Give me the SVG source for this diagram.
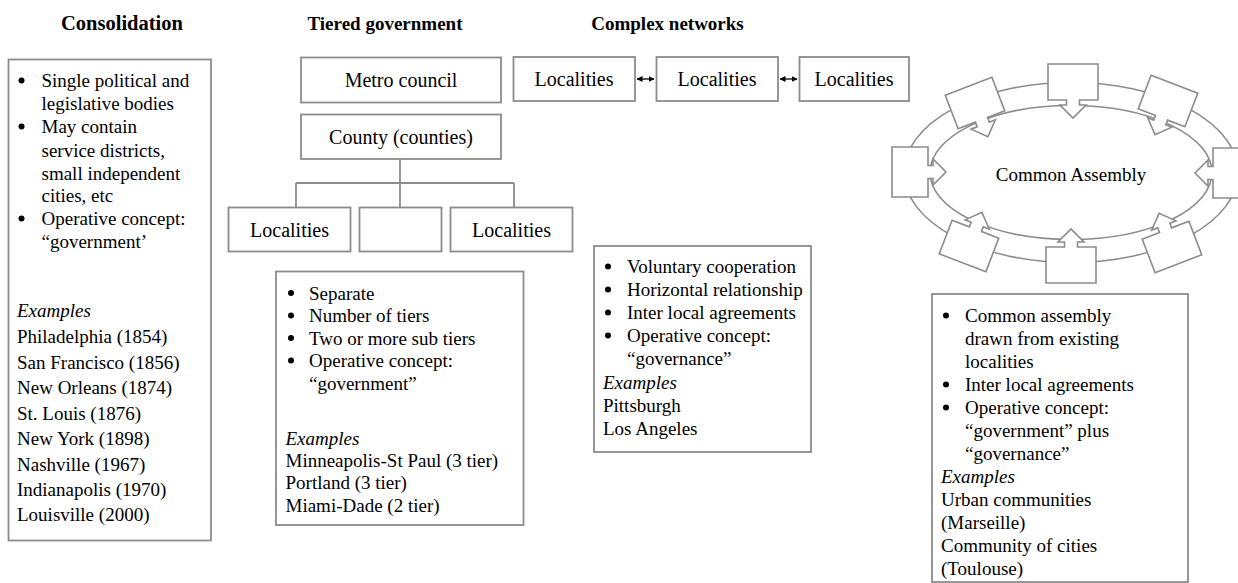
<svg xmlns="http://www.w3.org/2000/svg" width="1238" height="583" viewBox="0 0 1238 583">
<style>
text{font-family:"Liberation Serif","Times New Roman",serif;fill:#000}
.t{font-size:19px;font-weight:bold;text-anchor:middle}
.b{font-size:19px}
.lbl{font-size:20px;text-anchor:middle}
.i{font-style:italic}
.box{fill:#fff;stroke:#8c8c8c;stroke-width:1.8}
.conn{fill:none;stroke:#8c8c8c;stroke-width:1.8}
.ring{fill:#fff;stroke:#8c8c8c;stroke-width:1.6}
.co{fill:#fff;stroke:#8c8c8c;stroke-width:1.6;stroke-linejoin:miter}
.dot{fill:#000}
</style>
<defs>
<path id="callout" d="M-25,-18 H25 V18 H6.5 V23 H13 L0,36 L-13,23 H-6.5 V18 H-25 Z"/>
<marker id="ah" viewBox="0 0 6 6" refX="5.5" refY="3" markerWidth="6" markerHeight="6" markerUnits="userSpaceOnUse" orient="auto-start-reverse">
<path d="M0,0 L6,3 L0,6 Z" fill="#000"/>
</marker>
</defs>
<rect width="1238" height="583" fill="#fff"/>

<g id="titles">
<text class="t" x="122" y="29.5" style="font-size:20.5px">Consolidation</text>
<text class="t" x="385" y="29.5">Tiered government</text>
<text class="t" x="667.5" y="29.5">Complex networks</text>
</g>

<g id="connectors">
<path class="conn" d="M400,159 V183 M296,183 H514 M296,183 V207.5 M400,183 V207.5 M514,183 V207.5"/>
<line x1="637" y1="79" x2="654" y2="79" stroke="#000" stroke-width="1.3" marker-start="url(#ah)" marker-end="url(#ah)"/>
<line x1="780" y1="79" x2="797" y2="79" stroke="#000" stroke-width="1.3" marker-start="url(#ah)" marker-end="url(#ah)"/>
</g>

<g id="consolidation">
<rect class="box" x="8.5" y="59.5" width="202.5" height="481"/>
<circle class="dot" cx="21.5" cy="80.5" r="3"/>
<circle class="dot" cx="21.5" cy="126.5" r="3"/>
<circle class="dot" cx="21.5" cy="218.5" r="3"/>
<text class="b" x="41.5" y="87">Single political and</text>
<text class="b" x="41.5" y="110">legislative bodies</text>
<text class="b" x="41.5" y="133">May contain</text>
<text class="b" x="41.5" y="156.5">service districts,</text>
<text class="b" x="41.5" y="179.5">small independent</text>
<text class="b" x="41.5" y="202">cities, etc</text>
<text class="b" x="41.5" y="225">Operative concept:</text>
<text class="b" x="41.5" y="247.5">“government’</text>
<text class="b i" x="17" y="317">Examples</text>
<text class="b" x="17" y="343">Philadelphia (1854)</text>
<text class="b" x="17" y="368.5">San Francisco (1856)</text>
<text class="b" x="17" y="394">New Orleans (1874)</text>
<text class="b" x="17" y="419.5">St. Louis (1876)</text>
<text class="b" x="17" y="445">New York (1898)</text>
<text class="b" x="17" y="470.5">Nashville (1967)</text>
<text class="b" x="17" y="496">Indianapolis (1970)</text>
<text class="b" x="17" y="521">Louisville (2000)</text>
</g>

<g id="metro-council">
<rect class="box" x="301" y="57.5" width="200" height="45"/>
<text class="lbl" x="401" y="86.5">Metro council</text>
</g>
<g id="county">
<rect class="box" x="301" y="114.5" width="200" height="44.5"/>
<text class="lbl" x="401" y="143.5">County (counties)</text>
</g>
<g id="tier-localities-1">
<rect class="box" x="228.5" y="207.5" width="122" height="44"/>
<text class="lbl" x="289.5" y="236.5">Localities</text>
</g>
<g id="tier-localities-2">
<rect class="box" x="359.5" y="207.5" width="82" height="44"/>
</g>
<g id="tier-localities-3">
<rect class="box" x="450.5" y="207.5" width="122" height="44"/>
<text class="lbl" x="511.5" y="236.5">Localities</text>
</g>

<g id="tiered-text">
<rect class="box" x="276" y="271.5" width="247.5" height="253.5"/>
<circle class="dot" cx="291" cy="293" r="3"/>
<circle class="dot" cx="291" cy="315.5" r="3"/>
<circle class="dot" cx="291" cy="338" r="3"/>
<circle class="dot" cx="291" cy="360.5" r="3"/>
<text class="b" x="309" y="299.5">Separate</text>
<text class="b" x="309" y="322">Number of tiers</text>
<text class="b" x="309" y="344.5">Two or more sub tiers</text>
<text class="b" x="309" y="367">Operative concept:</text>
<text class="b" x="309" y="389.5">“government”</text>
<text class="b i" x="285.5" y="445">Examples</text>
<text class="b" x="285.5" y="467">Minneapolis-St Paul (3 tier)</text>
<text class="b" x="285.5" y="489">Portland (3 tier)</text>
<text class="b" x="285.5" y="511.5">Miami-Dade (2 tier)</text>
</g>

<g id="net-localities-1">
<rect class="box" x="513.5" y="57" width="121.5" height="44"/>
<text class="lbl" x="574" y="86">Localities</text>
</g>
<g id="net-localities-2">
<rect class="box" x="656.5" y="57" width="121.5" height="44"/>
<text class="lbl" x="717" y="86">Localities</text>
</g>
<g id="net-localities-3">
<rect class="box" x="799.5" y="57" width="109.5" height="44"/>
<text class="lbl" x="854" y="86">Localities</text>
</g>

<g id="networks-text">
<rect class="box" x="594" y="246" width="217" height="206"/>
<circle class="dot" cx="608" cy="266.5" r="3"/>
<circle class="dot" cx="608" cy="289.5" r="3"/>
<circle class="dot" cx="608" cy="312.5" r="3"/>
<circle class="dot" cx="608" cy="335.5" r="3"/>
<text class="b" x="627" y="273">Voluntary cooperation</text>
<text class="b" x="627" y="296">Horizontal relationship</text>
<text class="b" x="627" y="319">Inter local agreements</text>
<text class="b" x="627" y="342">Operative concept:</text>
<text class="b" x="627" y="364.5">“governance”</text>
<text class="b i" x="603" y="389">Examples</text>
<text class="b" x="603" y="412">Pittsburgh</text>
<text class="b" x="603" y="435">Los Angeles</text>
</g>

<g id="common-assembly">
<ellipse class="ring" cx="1071" cy="172.5" rx="167" ry="90"/>
<ellipse class="ring" cx="1071" cy="172.5" rx="141" ry="67"/>
<text x="1071" y="180.5" style="font-size:19px;text-anchor:middle">Common Assembly</text>
<use href="#callout" class="co" transform="translate(1073,82)"/>
<use href="#callout" class="co" transform="translate(1168,101) rotate(21)"/>
<use href="#callout" class="co" transform="translate(1231,173) rotate(90)"/>
<use href="#callout" class="co" transform="translate(1172,247) rotate(159)"/>
<use href="#callout" class="co" transform="translate(1071,265) rotate(180)"/>
<use href="#callout" class="co" transform="translate(969,246) rotate(201)"/>
<use href="#callout" class="co" transform="translate(910,172) rotate(-90)"/>
<use href="#callout" class="co" transform="translate(975,103) rotate(-21)"/>
</g>

<g id="assembly-text">
<rect class="box" x="932" y="294" width="256" height="288"/>
<circle class="dot" cx="946" cy="315.5" r="3"/>
<circle class="dot" cx="946" cy="384.5" r="3"/>
<circle class="dot" cx="946" cy="407.5" r="3"/>
<text class="b" x="965" y="322">Common assembly</text>
<text class="b" x="965" y="345">drawn from existing</text>
<text class="b" x="965" y="368">localities</text>
<text class="b" x="965" y="391">Inter local agreements</text>
<text class="b" x="965" y="414">Operative concept:</text>
<text class="b" x="965" y="437">“government” plus</text>
<text class="b" x="965" y="460">“governance”</text>
<text class="b i" x="941" y="483">Examples</text>
<text class="b" x="941" y="506">Urban communities</text>
<text class="b" x="941" y="529">(Marseille)</text>
<text class="b" x="941" y="552">Community of cities</text>
<text class="b" x="941" y="575">(Toulouse)</text>
</g>
</svg>
